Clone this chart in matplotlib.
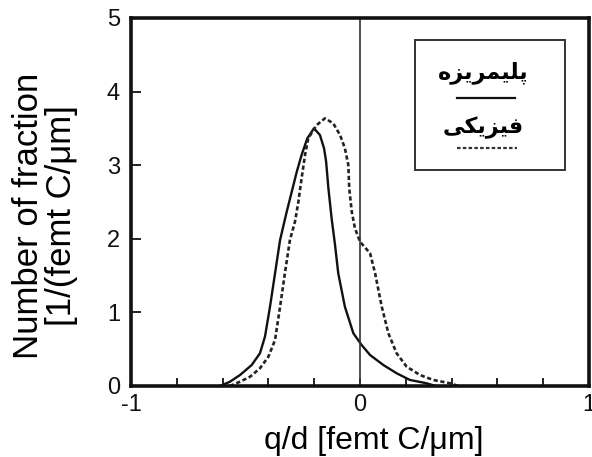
import matplotlib
matplotlib.use('Agg')
import matplotlib.pyplot as plt
from matplotlib.ticker import FixedLocator, MultipleLocator
from matplotlib.patches import Rectangle

# ---------------- data ----------------
x_solid = [-0.611, -0.568, -0.524, -0.473, -0.437, -0.415, -0.393, -0.371, -0.349,
           -0.320, -0.298, -0.276, -0.255, -0.230, -0.201, -0.175, -0.157, -0.148,
           -0.138, -0.124, -0.109, -0.095, -0.066, -0.029, 0.007, 0.044, 0.102,
           0.160, 0.218, 0.291, 0.330]
y_solid = [0.0, 0.058, 0.149, 0.285, 0.444, 0.670, 1.077, 1.531, 1.984,
           2.368, 2.640, 2.912, 3.139, 3.365, 3.501, 3.410, 3.230, 3.050,
           2.686, 2.280, 1.916, 1.531, 1.077, 0.716, 0.557, 0.421, 0.285,
           0.173, 0.082, 0.037, 0.0]

x_dashed = [-0.568, -0.524, -0.480, -0.437, -0.400, -0.371, -0.349, -0.328, -0.306,
            -0.284, -0.269, -0.255, -0.240, -0.226, -0.189, -0.153, -0.117, -0.087,
            -0.066, -0.051, -0.047, -0.036, -0.022, 0.0, 0.044, 0.066, 0.095,
            0.124, 0.160, 0.204, 0.262, 0.320, 0.393, 0.430]
y_dashed = [0.0, 0.058, 0.126, 0.240, 0.398, 0.625, 1.077, 1.531, 1.984,
            2.232, 2.504, 2.822, 3.139, 3.365, 3.546, 3.637, 3.569, 3.410,
            3.230, 3.003, 2.686, 2.368, 2.143, 1.961, 1.803, 1.531, 1.077,
            0.716, 0.444, 0.262, 0.149, 0.082, 0.037, 0.0]

# legend labels (Persian): "پلیمریزه" and "فیزیکی"
label_solid = '\u067e\u0644\u06cc\u0645\u0631\u06cc\u0632\u0647'
label_dashed = '\u0641\u06cc\u0632\u06cc\u06a9\u06cc'

x_major = [-1, 0, 1]
x_major_labels = ['-1', '0', '1']
y_major = [0, 1, 2, 3, 4, 5]

# ---------------- simple Arabic-script shaping ----------------
FORMS = {  # isolated, final, initial, medial
    '\u067e': (0xFB56, 0xFB57, 0xFB58, 0xFB59),
    '\u0644': (0xFEDD, 0xFEDE, 0xFEDF, 0xFEE0),
    '\u06cc': (0xFBFC, 0xFBFD, 0xFBFE, 0xFBFF),
    '\u0645': (0xFEE1, 0xFEE2, 0xFEE3, 0xFEE4),
    '\u0631': (0xFEAD, 0xFEAE, None, None),
    '\u0632': (0xFEAF, 0xFEB0, None, None),
    '\u0647': (0xFEE9, 0xFEEA, 0xFEEB, 0xFEEC),
    '\u0641': (0xFED1, 0xFED2, 0xFED3, 0xFED4),
    '\u06a9': (0xFB8E, 0xFB8F, 0xFB90, 0xFB91),
}


def shape(s):
    out = []
    n = len(s)
    for i, ch in enumerate(s):
        f = FORMS.get(ch)
        if f is None:
            out.append(ch)
            continue
        prev_ok = i > 0 and s[i - 1] in FORMS and FORMS[s[i - 1]][2] is not None
        next_ok = i < n - 1 and s[i + 1] in FORMS and f[2] is not None
        if prev_ok and next_ok:
            c = f[3]
        elif prev_ok:
            c = f[1]
        elif next_ok:
            c = f[2]
        else:
            c = f[0]
        out.append(chr(c))
    return ''.join(reversed(out))


# ---------------- figure ----------------
plt.rcParams['font.family'] = ['Liberation Sans', 'DejaVu Sans']

fig = plt.figure(figsize=(5.92, 4.57), dpi=100)
ax = fig.add_axes([131 / 592, 71 / 457, 458 / 592, 368 / 457])

ax.plot(x_solid, y_solid, color='#111111', lw=1.7, solid_capstyle='round')
ax.plot(x_dashed, y_dashed, color='#222222', lw=1.9, linestyle=(0, (1.6, 1.0)))
ax.axvline(0, color='#333333', lw=1.2)

ax.set_xlim(-1, 1)
ax.set_ylim(0, 5)

ax.xaxis.set_major_locator(FixedLocator(x_major))
ax.set_xticklabels(x_major_labels)
ax.xaxis.set_minor_locator(MultipleLocator(0.2))
ax.yaxis.set_major_locator(FixedLocator(y_major))

ax.tick_params(axis='both', which='both', direction='in', width=1.3, colors='#111111')
ax.tick_params(axis='x', which='major', length=6, pad=6, labelsize=17)
ax.tick_params(axis='x', which='minor', length=6)
ax.tick_params(axis='y', which='major', length=7, pad=8, labelsize=17)

for sp in ax.spines.values():
    sp.set_linewidth(2.6)
    sp.set_color('#111111')

ax.set_xlabel('q/d [femt C/\u03bcm]', fontsize=23)
ax.xaxis.set_label_coords(0.53, -0.11)
ax.set_ylabel('Number of fraction\n[1/(femt C/\u03bcm]', fontsize=25, linespacing=1.0)
ax.yaxis.label.set_va('center')
ax.yaxis.set_label_coords(-0.188, 0.462)

# legend box drawn in axes coordinates
ax.add_patch(Rectangle((0.620, 0.587), 0.328, 0.353, transform=ax.transAxes,
                       fill=False, edgecolor='#333333', lw=1.4))
ax.text(0.769, 0.851, shape(label_solid), transform=ax.transAxes, ha='center', va='center',
        fontsize=16, fontweight='bold', family=['DejaVu Sans'])
ax.plot([0.712, 0.838], [0.783, 0.783], transform=ax.transAxes, color='#111111', lw=1.6)
ax.text(0.769, 0.701, shape(label_dashed), transform=ax.transAxes, ha='center', va='center',
        fontsize=16, fontweight='bold', family=['DejaVu Sans'])
ax.plot([0.712, 0.842], [0.647, 0.647], transform=ax.transAxes, color='#333333', lw=1.6,
        linestyle=(0, (1.6, 1.0)))

fig.savefig('out.png', dpi=100)
